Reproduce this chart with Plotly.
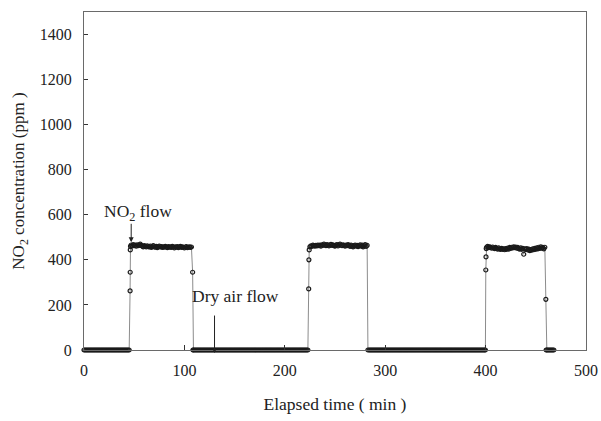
import plotly.graph_objects as go

# --- data (elapsed time in min, NO2 in ppm) ---
base_a_t = [0, 1, 2, 3, 4, 5, 6, 7, 8, 9, 10, 11, 12, 13, 14, 15, 16, 17, 18, 19, 20, 21, 22, 23,
            24, 25, 26, 27, 28, 29, 30, 31, 32, 33, 34, 35, 36, 37, 38, 39, 40, 41, 42, 43, 44, 45]
base_a_v = [0, 0, 0, 0, 0, 0, 0, 0, 0, 0, 0, 0, 0, 0, 0, 0, 0, 0, 0, 0, 0, 0, 0, 0,
            0, 0, 0, 0, 0, 0, 0, 0, 0, 0, 0, 0, 0, 0, 0, 0, 0, 0, 0, 0, 0, 0]

rise1_t = [45.9, 46.0, 46.1, 46.3]
rise1_v = [262, 345, 444, 460]

plat1_t = [47, 48, 49, 50, 51, 52, 53, 54, 55, 56, 57, 58, 59, 60, 61, 62, 63, 64, 65, 66,
           67, 68, 69, 70, 71, 72, 73, 74, 75, 76, 77, 78, 79, 80, 81, 82, 83, 84, 85, 86,
           87, 88, 89, 90, 91, 92, 93, 94, 95, 96, 97, 98, 99, 100, 101, 102, 103, 104, 105, 106, 107]
plat1_v = [466, 462, 468, 463, 465, 461, 467, 463, 465, 470,
           464, 461, 458, 463, 460, 457, 462, 459, 457, 461,
           455, 459, 463, 458, 456, 460, 454, 458, 461, 457,
           459, 455, 458, 456, 460, 457, 454, 459, 456, 458,
           455, 460, 457, 453, 458, 456, 459, 454, 457, 460,
           455, 458, 456, 453, 457, 459, 454, 456, 458, 455, 457]

fall1_t = [108.2, 108.5]
fall1_v = [345, 0]

base_b_t = [109, 110, 111, 112, 113, 114, 115, 116, 117, 118, 119, 120, 121, 122, 123, 124, 125, 126, 127, 128,
            129, 130, 131, 132, 133, 134, 135, 136, 137, 138, 139, 140, 141, 142, 143, 144, 145, 146, 147, 148,
            149, 150, 151, 152, 153, 154, 155, 156, 157, 158, 159, 160, 161, 162, 163, 164, 165, 166, 167, 168,
            169, 170, 171, 172, 173, 174, 175, 176, 177, 178, 179, 180, 181, 182, 183, 184, 185, 186, 187, 188,
            189, 190, 191, 192, 193, 194, 195, 196, 197, 198, 199, 200, 201, 202, 203, 204, 205, 206, 207, 208,
            209, 210, 211, 212, 213, 214, 215, 216, 217, 218, 219, 220, 221, 222, 223]
base_b_v = [0, 0, 0, 0, 0, 0, 0, 0, 0, 0, 0, 0, 0, 0, 0, 0, 0, 0, 0, 0,
            0, 0, 0, 0, 0, 0, 0, 0, 0, 0, 0, 0, 0, 0, 0, 0, 0, 0, 0, 0,
            0, 0, 0, 0, 0, 0, 0, 0, 0, 0, 0, 0, 0, 0, 0, 0, 0, 0, 0, 0,
            0, 0, 0, 0, 0, 0, 0, 0, 0, 0, 0, 0, 0, 0, 0, 0, 0, 0, 0, 0,
            0, 0, 0, 0, 0, 0, 0, 0, 0, 0, 0, 0, 0, 0, 0, 0, 0, 0, 0, 0,
            0, 0, 0, 0, 0, 0, 0, 0, 0, 0, 0, 0, 0, 0, 0]

rise2_t = [223.8, 224.0, 224.3]
rise2_v = [271, 400, 444]

plat2_t = [225, 226, 227, 228, 229, 230, 231, 232, 233, 234, 235, 236, 237, 238, 239, 240, 241, 242, 243, 244,
           245, 246, 247, 248, 249, 250, 251, 252, 253, 254, 255, 256, 257, 258, 259, 260, 261, 262, 263, 264,
           265, 266, 267, 268, 269, 270, 271, 272, 273, 274, 275, 276, 277, 278, 279, 280, 281, 282]
plat2_v = [458, 462, 460, 465, 463, 461, 464, 462, 466, 463,
           465, 461, 467, 464, 470, 466, 463, 468, 465, 462,
           466, 469, 464, 467, 463, 461, 465, 468, 462, 466,
           470, 465, 463, 467, 464, 461, 466, 463, 468, 464,
           460, 465, 462, 458, 463, 466, 461, 464, 459, 463,
           467, 461, 465, 458, 463, 468, 460, 464]

fall2_t = [282.8]
fall2_v = [0]

base_c_t = [284, 285, 286, 287, 288, 289, 290, 291, 292, 293, 294, 295, 296, 297, 298, 299, 300, 301, 302, 303,
            304, 305, 306, 307, 308, 309, 310, 311, 312, 313, 314, 315, 316, 317, 318, 319, 320, 321, 322, 323,
            324, 325, 326, 327, 328, 329, 330, 331, 332, 333, 334, 335, 336, 337, 338, 339, 340, 341, 342, 343,
            344, 345, 346, 347, 348, 349, 350, 351, 352, 353, 354, 355, 356, 357, 358, 359, 360, 361, 362, 363,
            364, 365, 366, 367, 368, 369, 370, 371, 372, 373, 374, 375, 376, 377, 378, 379, 380, 381, 382, 383,
            384, 385, 386, 387, 388, 389, 390, 391, 392, 393, 394, 395, 396, 397, 398, 399, 399.8]
base_c_v = [0, 0, 0, 0, 0, 0, 0, 0, 0, 0, 0, 0, 0, 0, 0, 0, 0, 0, 0, 0,
            0, 0, 0, 0, 0, 0, 0, 0, 0, 0, 0, 0, 0, 0, 0, 0, 0, 0, 0, 0,
            0, 0, 0, 0, 0, 0, 0, 0, 0, 0, 0, 0, 0, 0, 0, 0, 0, 0, 0, 0,
            0, 0, 0, 0, 0, 0, 0, 0, 0, 0, 0, 0, 0, 0, 0, 0, 0, 0, 0, 0,
            0, 0, 0, 0, 0, 0, 0, 0, 0, 0, 0, 0, 0, 0, 0, 0, 0, 0, 0, 0,
            0, 0, 0, 0, 0, 0, 0, 0, 0, 0, 0, 0, 0, 0, 0, 0, 0]

rise3_t = [400.2, 400.4, 400.6]
rise3_v = [355, 413, 450]

plat3_t = [401, 402, 403, 404, 405, 406, 407, 408, 409, 410, 411, 412, 413, 414, 415, 416, 417, 418, 419, 420,
           421, 422, 423, 424, 425, 426, 427, 428, 429, 430, 431, 432, 433, 434, 435, 436, 437, 438, 439, 440,
           441, 442, 443, 444, 445, 446, 447, 448, 449, 450, 451, 452, 453, 454, 455, 456, 457, 458, 459]
plat3_v = [456, 460, 454, 458, 455, 452, 457, 453, 450, 455,
           451, 448, 453, 449, 446, 451, 447, 449, 445, 450,
           447, 452, 448, 455, 451, 456, 453, 458, 454, 457,
           452, 455, 450, 448, 453, 447, 451, 425, 449, 446,
           450, 444, 448, 441, 446, 443, 449, 445, 451, 447,
           453, 449, 456, 451, 458, 452, 455, 449, 456]

fall3_t = [460.0, 460.3]
fall3_v = [225, 0]

base_d_t = [461, 462, 463, 464, 465, 466, 467, 468]
base_d_v = [0, 0, 0, 0, 0, 0, 0, 0]

time_min = (base_a_t + rise1_t + plat1_t + fall1_t + base_b_t + rise2_t + plat2_t
            + fall2_t + base_c_t + rise3_t + plat3_t + fall3_t + base_d_t)
no2_ppm = (base_a_v + rise1_v + plat1_v + fall1_v + base_b_v + rise2_v + plat2_v
           + fall2_v + base_c_v + rise3_v + plat3_v + fall3_v + base_d_v)

x_ticks = [0, 100, 200, 300, 400, 500]
y_ticks = [0, 200, 400, 600, 800, 1000, 1200, 1400]

FONT = "Liberation Serif, Times New Roman, DejaVu Serif, serif"

fig = go.Figure()
fig.add_trace(go.Scatter(
    x=time_min, y=no2_ppm, mode="lines+markers",
    line=dict(color="#8c8c8c", width=1),
    marker=dict(symbol="circle-open", size=4, color="#1a1a1a", line=dict(width=1.2)),
    showlegend=False, cliponaxis=False,
))

axis_common = dict(
    showgrid=False, zeroline=False, showline=True, linecolor="#6a6a6a", linewidth=1,
    mirror=True, ticks="inside", tickcolor="#333", tickwidth=1, automargin=False,
    tickfont=dict(family=FONT, size=16, color="#222"),
)

fig.update_layout(
    width=601, height=421,
    margin=dict(l=84, r=15, t=12, b=71),
    paper_bgcolor="white", plot_bgcolor="white",
    font=dict(family=FONT, color="#222"),
    xaxis=dict(range=[0, 500], tickvals=x_ticks, ticklen=5, ticklabelstandoff=6,
               title=dict(text="Elapsed time ( min )", font=dict(family=FONT, size=17.5, color="#222"), standoff=19),
               **axis_common),
    yaxis=dict(range=[0, 1500], tickvals=y_ticks, ticklen=4, ticklabelstandoff=8,
               title=dict(text="NO<sub>2</sub> concentration (ppm )", font=dict(family=FONT, size=17, color="#222"), standoff=10),
               **axis_common),
    annotations=[
        dict(x=53.5, y=612, xref="x", yref="y", text="NO<sub>2</sub> flow", showarrow=False,
             font=dict(family=FONT, size=17.5, color="#222")),
        dict(x=47, y=478, xref="x", yref="y", text="", showarrow=True, ax=0, ay=-20,
             arrowhead=2, arrowsize=1, arrowwidth=1, arrowcolor="#222"),
        dict(x=150.5, y=240, xref="x", yref="y", text="Dry air flow", showarrow=False,
             font=dict(family=FONT, size=17.5, color="#222")),
        dict(x=130, y=-0.009, xref="x", yref="paper", text="", showarrow=True, ax=0, ay=-39,
             arrowhead=2, arrowsize=0.7, arrowwidth=1, arrowcolor="#222"),
    ],
)

fig.write_html("out.html")
